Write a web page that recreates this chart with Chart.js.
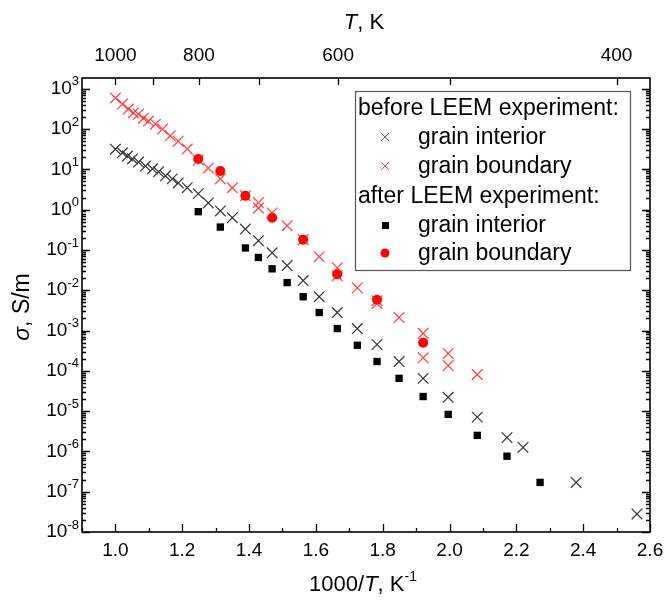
<!DOCTYPE html>
<html>
<head>
<meta charset="utf-8">
<script src="https://cdn.jsdelivr.net/npm/chart.js@4.4.1/dist/chart.umd.min.js"></script>
<style>
  html, body { margin: 0; padding: 0; background: #fff; }
</style>
</head>
<body>
<canvas id="myChart" width="664" height="601"></canvas>
<script>
// x = 1000/T (1/K), y = sigma (S/m)

// before LEEM experiment: grain interior
const beforeGiX = [1.000, 1.021, 1.036, 1.051, 1.069, 1.090, 1.111, 1.129, 1.150, 1.170,
  1.188, 1.215, 1.248, 1.278, 1.314, 1.350, 1.389, 1.428, 1.469, 1.514,
  1.562, 1.610, 1.664, 1.724, 1.783, 1.849, 1.921, 1.996, 2.083, 2.172,
  2.220, 2.379, 2.561];
const beforeGiY = [31.6, 25.7, 21.4, 18.1, 15.2, 12.1, 10.3, 8.7, 6.9, 5.8,
  4.6, 3.5, 2.5, 1.47, 0.93, 0.63, 0.33, 0.17, 0.085, 0.041,
  0.0174, 0.0069, 0.0028, 0.00112, 4.5e-4, 1.7e-4, 6.5e-5, 2.2e-5, 7.1e-6, 2.2e-6,
  1.26e-6, 1.7e-7, 2.8e-8];

// before LEEM experiment: grain boundary
const beforeGbX = [1.000, 1.021, 1.039, 1.054, 1.069, 1.084, 1.099, 1.120, 1.141, 1.164,
  1.188, 1.215, 1.248, 1.278, 1.314, 1.350, 1.389, 1.428, 1.428, 1.469,
  1.514, 1.562, 1.610, 1.664, 1.664, 1.724, 1.783, 1.783, 1.849, 1.921,
  1.921, 1.996, 1.996, 2.083];
const beforeGbY = [590, 417, 316, 251, 234, 186, 158, 132, 100, 68,
  50, 32, 17, 10.7, 5.8, 3.5, 2.2, 1.5, 1.1, 0.83,
  0.40, 0.18, 0.068, 0.036, 0.023, 0.0115, 0.0055, 0.0047, 0.0021, 8.5e-4,
  2.1e-4, 2.7e-4, 1.35e-4, 8.1e-5];

// after LEEM experiment: grain interior
const afterGiX = [1.248, 1.314, 1.389, 1.428, 1.469, 1.514, 1.562, 1.610, 1.664, 1.724,
  1.783, 1.849, 1.921, 1.996, 2.083, 2.172, 2.271];
const afterGiY = [0.89, 0.37, 0.112, 0.065, 0.034, 0.0155, 0.0069, 0.0028, 0.00112, 4.3e-4,
  1.7e-4, 6.5e-5, 2.3e-5, 8.3e-6, 2.5e-6, 7.6e-7, 1.7e-7];

// after LEEM experiment: grain boundary
const afterGbX = [1.248, 1.314, 1.389, 1.469, 1.562, 1.664, 1.783, 1.921];
const afterGbY = [18, 9.1, 2.2, 0.63, 0.18, 0.025, 0.0058, 5.0e-4];

// axes
const xMajorTicks = [1.0, 1.2, 1.4, 1.6, 1.8, 2.0, 2.2, 2.4, 2.6];
const xMinorTicks = [0.9, 1.1, 1.3, 1.5, 1.7, 1.9, 2.1, 2.3, 2.5];
const yDecades = [-8, -7, -6, -5, -4, -3, -2, -1, 0, 1, 2, 3];
const topTemps = [1000, 900, 800, 700, 600, 500, 400];
const topLabels = [1000, 800, 600, 400];

const FONT = '"Liberation Sans", Arial, sans-serif';
const RED_X = 'rgba(255,25,25,0.8)';
const GREY_X = '#333';


function toPoints(xs, ys) {
  return xs.map((x, i) => ({ x: x, y: ys[i] }));
}

// draw text made of several runs (different fonts / offsets)
function drawRuns(ctx, runs, x, y, align) {
  let total = 0;
  runs.forEach(r => {
    ctx.font = r[1];
    total += ctx.measureText(r[0]).width;
  });
  let cx = x;
  if (align === 'center') cx = x - total / 2;
  if (align === 'right') cx = x - total;
  ctx.textAlign = 'left';
  runs.forEach(r => {
    ctx.font = r[1];
    ctx.fillText(r[0], cx, y + (r[2] || 0));
    cx += ctx.measureText(r[0]).width;
  });
}

function drawX(ctx, x, y, h, color, lw) {
  ctx.save();
  ctx.strokeStyle = color;
  ctx.lineWidth = lw;
  ctx.beginPath();
  ctx.moveTo(x - h, y - h); ctx.lineTo(x + h, y + h);
  ctx.moveTo(x - h, y + h); ctx.lineTo(x + h, y - h);
  ctx.stroke();
  ctx.restore();
}


// ------------------------------------------------------------------
// frame, ticks, labels, titles, legend
const framePlugin = {
  id: 'framePlugin',
  afterDraw(chart) {
    const ctx = chart.ctx;
    const a = chart.chartArea;
    const xs = chart.scales.x;
    const ys = chart.scales.y;

    ctx.save();
    ctx.fillStyle = '#000';
    ctx.strokeStyle = '#000';
    ctx.lineWidth = 1.3;

    // ticks bottom
    ctx.beginPath();
    xMajorTicks.forEach(v => {
      const px = Math.round(xs.getPixelForValue(v)) + 0.5;
      ctx.moveTo(px, a.bottom); ctx.lineTo(px, a.bottom - 8);
    });
    xMinorTicks.forEach(v => {
      const px = Math.round(xs.getPixelForValue(v)) + 0.5;
      ctx.moveTo(px, a.bottom); ctx.lineTo(px, a.bottom - 4);
    });
    // ticks top (temperature)
    topTemps.forEach(t => {
      const px = Math.round(xs.getPixelForValue(1000 / t)) + 0.5;
      ctx.moveTo(px, a.top); ctx.lineTo(px, a.top + 7);
    });
    // ticks left/right (log)
    yDecades.forEach(e => {
      for (let k = 1; k <= 9; k++) {
        const v = k * Math.pow(10, e);
        if (v > ys.max) continue;
        const py = Math.round(ys.getPixelForValue(v)) + 0.5;
        const len = k === 1 ? 8 : 4;
        ctx.moveTo(a.left, py); ctx.lineTo(a.left + len, py);
        ctx.moveTo(a.right, py); ctx.lineTo(a.right - len, py);
      }
    });
    ctx.stroke();

    // frame
    ctx.lineWidth = 1.6;
    ctx.strokeRect(a.left, a.top, a.right - a.left, a.bottom - a.top);

    // bottom tick labels
    ctx.textBaseline = 'middle';
    ctx.font = '19px ' + FONT;
    ctx.textAlign = 'center';
    xMajorTicks.forEach(v => {
      ctx.fillText(v.toFixed(1), xs.getPixelForValue(v), 551);
    });
    // top tick labels
    topLabels.forEach(t => {
      ctx.fillText(String(t), xs.getPixelForValue(1000 / t), 56);
    });
    // left tick labels 10^n
    yDecades.forEach(e => {
      const py = ys.getPixelForValue(Math.pow(10, e));
      drawRuns(ctx, [['10', '19px ' + FONT, 0], [String(e), '13px ' + FONT, -7]], 79, py, 'right');
    });

    // axis titles
    drawRuns(ctx, [['T', 'italic 22px ' + FONT], [', K', '22px ' + FONT]], 364, 23, 'center');
    drawRuns(ctx, [['1000/', '22px ' + FONT], ['T', 'italic 22px ' + FONT],
      [', K', '22px ' + FONT], ['-1', '14px ' + FONT, -8]], 363, 585, 'center');
    ctx.save();
    ctx.translate(23, 307);
    ctx.rotate(-Math.PI / 2);
    drawRuns(ctx, [['σ', 'italic 23px ' + FONT], [', S/m', '23px ' + FONT]], 0, 0, 'center');
    ctx.restore();

    // legend
    ctx.fillStyle = '#fff';
    ctx.fillRect(355, 91, 275, 179);
    ctx.strokeStyle = '#555';
    ctx.lineWidth = 1.2;
    ctx.strokeRect(355.5, 91.5, 275, 179);
    ctx.fillStyle = '#000';
    ctx.font = '23px ' + FONT;
    ctx.textAlign = 'left';
    ctx.fillText('before LEEM experiment:', 358, 109);
    ctx.fillText('grain interior', 418, 138);
    ctx.fillText('grain boundary', 418, 167);
    ctx.fillText('after LEEM experiment:', 358, 197);
    ctx.fillText('grain interior', 418, 226);
    ctx.fillText('grain boundary', 418, 254);
    drawX(ctx, 385, 137, 4, '#666', 1);
    drawX(ctx, 385, 166, 4, RED_X, 1);
    ctx.fillStyle = '#000';
    ctx.fillRect(382, 222, 7, 7);
    ctx.fillStyle = '#f00';
    ctx.beginPath();
    ctx.arc(385, 253, 4.5, 0, Math.PI * 2);
    ctx.fill();

    ctx.restore();
  }
};


// ------------------------------------------------------------------
// CHART
const ctx = document.getElementById('myChart');

const myChart = new Chart(ctx, {
  type: 'scatter',
  data: {
    datasets: [
      {
        label: 'before LEEM: grain boundary',
        data: toPoints(beforeGbX, beforeGbY),
        pointStyle: 'crossRot',
        pointRadius: 7.5,
        borderColor: RED_X,
        borderWidth: 1.3,
      },
      {
        label: 'before LEEM: grain interior',
        data: toPoints(beforeGiX, beforeGiY),
        pointStyle: 'crossRot',
        pointRadius: 7.5,
        borderColor: GREY_X,
        borderWidth: 1.2,
      },
      {
        label: 'after LEEM: grain boundary',
        data: toPoints(afterGbX, afterGbY),
        pointStyle: 'circle',
        pointRadius: 5,
        backgroundColor: '#ff0000',
        borderColor: '#ff0000',
        borderWidth: 0,
      },
      {
        label: 'after LEEM: grain interior',
        data: toPoints(afterGiX, afterGiY),
        pointStyle: 'rect',
        pointRadius: 5.2,
        backgroundColor: '#000',
        borderColor: '#000',
        borderWidth: 0,
      },
    ],
  },
  options: {
    responsive: false,
    animation: false,
    devicePixelRatio: 1,
    layout: { padding: { left: 82, right: 14, top: 78, bottom: 69 } },
    plugins: {
      legend: { display: false },
      tooltip: { enabled: false },
    },
    scales: {
      x: { type: 'linear', min: 0.9, max: 2.6, display: false },
      y: { type: 'logarithmic', min: 1e-8, max: 1850, display: false },
    },
  },
  plugins: [framePlugin],
});
</script>
</body>
</html>
